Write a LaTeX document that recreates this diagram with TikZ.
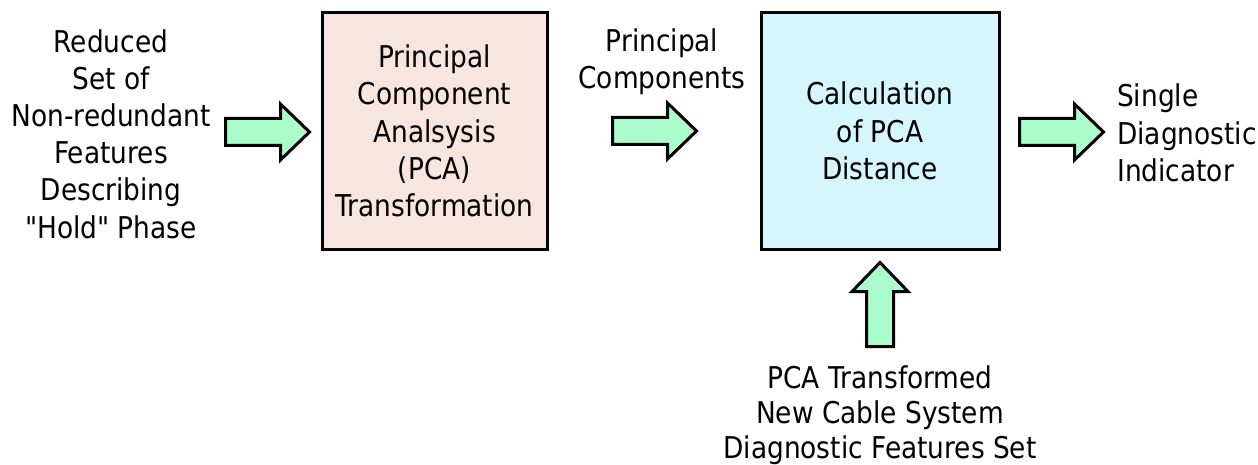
\documentclass[tikz,border=0pt]{standalone}
\usepackage{fontspec}
\setmainfont{DejaVu Sans}[FakeStretch=0.88, Ligatures=TeXOff]
\usetikzlibrary{calc}
\definecolor{boxpink}{HTML}{F9E5E0}
\definecolor{boxblue}{HTML}{D5F5FF}
\definecolor{arrowmint}{HTML}{AAFDCA}
\tikzset{
  lbl/.style={align=center, inner sep=0pt, font=\fontsize{30}{37.2}\selectfont},
  procbox/.style={draw=black, line width=3pt, align=center, inner sep=0pt,
    minimum height=236pt, font=\fontsize{30}{37.2}\selectfont},
  pics/fatarrow/.style={code={
    \draw[line width=3pt, line join=miter, fill=arrowmint]
      (0,-13.5) -- (55,-13.5) -- (55,-28) -- (84,0) -- (55,28) -- (55,13.5) -- (0,13.5) -- cycle;
  }}
}
\begin{document}
\begin{tikzpicture}[x=1pt, y=-1pt]
\useasboundingbox (0,0) rectangle (1258,465);

% text blocks
\node[lbl] (input) at (111,134) {Reduced\\Set of\\Non-redundant\\Features\\Describing\\"Hold" Phase};
\node[procbox, fill=boxpink, minimum width=225pt] (pca) at (434.5,131)
  {Principal\\Component\\Analsysis\\(PCA)\\Transformation};
\node[lbl] (pcs) at (662,62) {Principal\\Components};
\node[procbox, fill=boxblue, minimum width=238pt] (dist) at (880,131)
  {Calculation\\of PCA\\Distance};
\node[lbl, align=left, anchor=west] (out) at (1117,133) {Single\\Diagnostic\\Indicator};
\node[lbl, font=\fontsize{30}{35}\selectfont] (newset) at (880,415)
  {PCA Transformed\\New Cable System\\Diagnostic Features Set};

% block arrows between the stages
\coordinate (a1) at ($(pca.west)+(-95,1)$);
\coordinate (a2) at ($(pca.east)+(64,0)$);
\coordinate (a3) at ($(dist.east)+(19,1)$);
\coordinate (a4) at ($(dist.south)+(0,96)$);
\pic at (a1) {fatarrow};
\pic at (a2) {fatarrow};
\pic at (a3) {fatarrow};
\pic[rotate=90] at (a4) {fatarrow};
\end{tikzpicture}
\end{document}
